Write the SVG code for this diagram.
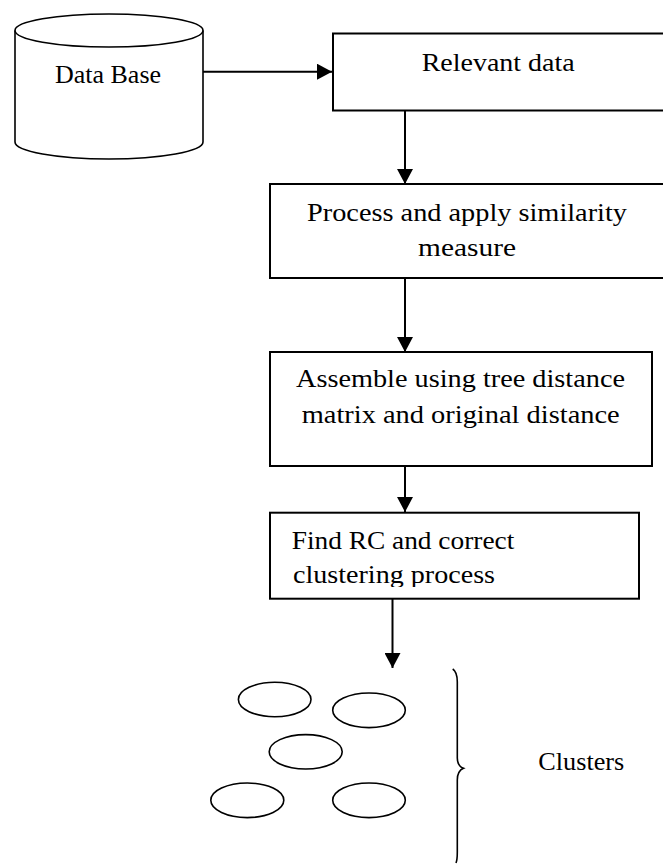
<svg xmlns="http://www.w3.org/2000/svg" width="663" height="864" viewBox="0 0 663 864">
<style>
.box{fill:#fff;stroke:#000;stroke-width:2}
.shape{fill:none;stroke:#000;stroke-width:1.6}
.edge{stroke:#000;stroke-width:2;fill:none}
.tnr{font-family:"Liberation Serif","Times New Roman",serif;font-size:26px;fill:#000}
.cam{font-family:"Liberation Serif","Times New Roman",serif;font-size:24.5px;fill:#000}
</style>
<defs>
<marker id="arr" markerUnits="userSpaceOnUse" markerWidth="16" markerHeight="16" refX="15" refY="8" orient="auto">
<path d="M0,0 L15,8 L0,16 z" fill="#000"/>
</marker>
<clipPath id="clipFind"><rect x="270" y="512" width="370" height="75"/></clipPath>
</defs>
<rect width="663" height="864" fill="#fff"/>
<g id="connectors">
<line class="edge" x1="203" y1="71.7" x2="332" y2="71.7" marker-end="url(#arr)"/>
<line class="edge" x1="405" y1="111" x2="405" y2="184" marker-end="url(#arr)"/>
<line class="edge" x1="405" y1="278" x2="405" y2="352" marker-end="url(#arr)"/>
<line class="edge" x1="405" y1="466" x2="405" y2="512" marker-end="url(#arr)"/>
<line class="edge" x1="392.5" y1="599" x2="392.5" y2="668" marker-end="url(#arr)"/>
</g>
<g id="database">
<path class="shape" d="M15,30.5 L15,142 A94,17 0 0 0 203,142 L203,30.5" fill="#fff"/>
<ellipse class="shape" cx="109" cy="30.5" rx="94" ry="16.5"/>
<text class="tnr" x="108" y="83" text-anchor="middle">Data Base</text>
</g>
<g id="relevant">
<rect class="box" x="333" y="33.5" width="335" height="77"/>
<text class="cam" x="421.7" y="70.7" textLength="153" lengthAdjust="spacingAndGlyphs">Relevant data</text>
</g>
<g id="process">
<rect class="box" x="270" y="184" width="398" height="94"/>
<text class="cam" x="307" y="220.7" textLength="320" lengthAdjust="spacingAndGlyphs">Process and apply similarity</text>
<text class="cam" x="418" y="256" textLength="98" lengthAdjust="spacingAndGlyphs">measure</text>
</g>
<g id="assemble">
<rect class="box" x="270" y="352" width="382" height="114"/>
<text class="cam" x="296" y="387" textLength="329" lengthAdjust="spacingAndGlyphs">Assemble using tree distance</text>
<text class="cam" x="301.7" y="423" textLength="318" lengthAdjust="spacingAndGlyphs">matrix and original distance</text>
</g>
<g id="findrc">
<rect class="box" x="270" y="512.7" width="369" height="86"/>
<g clip-path="url(#clipFind)">
<text class="cam" x="291.7" y="549" textLength="222.6" lengthAdjust="spacingAndGlyphs">Find RC and correct</text>
<text class="cam" x="293" y="583.3" textLength="202" lengthAdjust="spacingAndGlyphs">clustering process</text>
</g>
</g>
<g id="clusters">
<ellipse class="shape" cx="274.7" cy="699.5" rx="36.3" ry="17.2"/>
<ellipse class="shape" cx="369" cy="710.3" rx="36.3" ry="17.3"/>
<ellipse class="shape" cx="305.7" cy="751.8" rx="36.5" ry="17.2"/>
<ellipse class="shape" cx="247.3" cy="800.3" rx="36.5" ry="17.3"/>
<ellipse class="shape" cx="369" cy="800.3" rx="36.3" ry="17.3"/>
<path class="shape" stroke-width="2" d="M452.7,669 Q457.3,672 457.3,682 L457.3,758 Q457.3,766 463.5,768.3 Q457.3,771 457.3,780 L457.3,852 Q457.3,860 456,863"/>
<text class="tnr" x="538.3" y="770" textLength="86" lengthAdjust="spacingAndGlyphs">Clusters</text>
</g>
</svg>
